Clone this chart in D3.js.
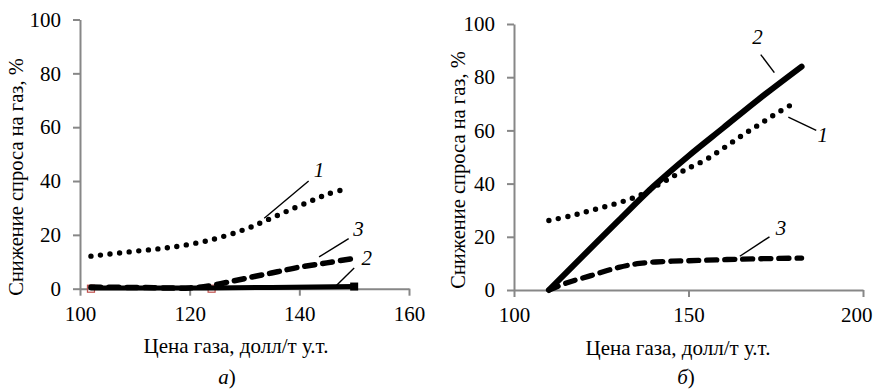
<!DOCTYPE html>
<html>
<head>
<meta charset="utf-8">
<script src="https://cdn.jsdelivr.net/npm/d3@7/dist/d3.min.js"></script>
<style>
  html, body { margin: 0; padding: 0; background: #fff; }
  svg text { font-family: "Times New Roman", "Liberation Serif", "DejaVu Serif", "Noto Serif", serif; }
</style>
</head>
<body>
<svg id="chart" width="874" height="389"></svg>
<script>
// Panel а) — gas price vs. demand reduction
const aTicksX = [100, 120, 140, 160];
const aTicksY = [0, 20, 40, 60, 80, 100];
const a1Price = [102, 110, 117, 124, 130, 134, 138, 142, 145, 148];
const a1Drop  = [12.1, 13.9, 15.5, 18.2, 22.0, 25.4, 29.0, 32.5, 35.0, 36.8];
const a2Price = [102, 124, 150];
const a2Drop  = [0.3, 0.3, 0.8];
const a3Price = [102, 112, 120, 124, 128, 132, 136, 140, 145, 150];
const a3Drop  = [0.6, 0.4, 0.3, 1.2, 2.9, 4.6, 6.3, 8.0, 9.6, 11.3];
const aRefPrice = [102, 124];
const aRefDrop  = [0, 0];

// Panel б)
const bTicksX = [100, 150, 200];
const bTicksY = [0, 20, 40, 60, 80, 100];
const b1Price = [110, 116, 121, 126, 131, 136, 141, 146, 150, 155, 160, 165, 170, 175, 181];
const b1Drop  = [26.1, 27.8, 29.5, 31.3, 33.2, 35.6, 39.3, 43.0, 45.8, 49.0, 53.3, 57.8, 62.0, 66.2, 70.8];
const b2Price = [110, 120, 130, 140, 150, 160, 170, 182.4];
const b2Drop  = [0, 13.1, 26.2, 39.0, 50.4, 61.0, 71.6, 84.0];
const b3Price = [110, 115, 122, 130, 136, 143, 150, 165, 182.4];
const b3Drop  = [0, 2.6, 5.4, 8.5, 10.0, 10.7, 11.0, 11.6, 12.0];

const yTitle = "Снижение спроса на газ, %";
const xTitle = "Цена газа, долл/т у.т.";

const svg = d3.select("#chart");
const AXIS = "#878787";

function zip(xs, ys) { return xs.map((x, i) => [x, ys[i]]); }

function panel(cfg) {
  const x = d3.scaleLinear().domain(cfg.xDomain).range(cfg.xRange);
  const y = d3.scaleLinear().domain([0, 100]).range(cfg.yRange);
  const g = svg.append("g");

  const ax = g.append("g")
    .attr("transform", `translate(0,${cfg.yRange[0]})`)
    .call(d3.axisBottom(x).tickValues(cfg.ticksX).tickSize(7).tickPadding(10).tickSizeOuter(0));
  const ay = g.append("g")
    .attr("transform", `translate(${cfg.xRange[0]},0)`)
    .call(d3.axisLeft(y).tickValues(cfg.ticksY).tickSize(7).tickPadding(12).tickSizeOuter(0));
  [ax, ay].forEach(a => {
    a.attr("font-family", null);
    a.select(".domain").attr("stroke", AXIS).attr("stroke-width", 2);
    a.selectAll(".tick line").attr("stroke", AXIS).attr("stroke-width", 2);
    a.selectAll(".tick text").attr("fill", "#000").attr("font-size", 21);
  });
  // the last x label is kept inside the frame
  if (cfg.lastTickShift) {
    ax.selectAll(".tick:last-of-type text")
      .attr("text-anchor", "end").attr("x", cfg.lastTickShift);
  }

  const line = d3.line().x(d => x(d[0])).y(d => y(d[1])).curve(d3.curveCatmullRom.alpha(0.5));
  const plot = g.append("g");
  cfg.series.forEach(s => {
    const p = plot.append("path")
      .attr("d", line(zip(s.px, s.py)))
      .attr("fill", "none").attr("stroke", "#000")
      .attr("stroke-width", s.w);
    if (s.style === "dot") p.attr("stroke-dasharray", "0,9.6").attr("stroke-linecap", "round");
    if (s.style === "dash") p.attr("stroke-dasharray", "10,8").attr("stroke-linecap", "round");
    if (s.style === "solid") p.attr("stroke-linecap", "round");
  });

  // Leader lines and series numbers
  cfg.notes.forEach(n => {
    g.append("line")
      .attr("x1", x(n.from[0])).attr("y1", y(n.from[1]))
      .attr("x2", x(n.to[0])).attr("y2", y(n.to[1]))
      .attr("stroke", "#000").attr("stroke-width", 1.4);
    g.append("text")
      .attr("x", x(n.at[0])).attr("y", y(n.at[1]))
      .attr("text-anchor", "middle")
      .attr("font-size", 21).attr("font-style", "italic")
      .text(n.label);
  });

  g.append("text")
    .attr("transform", `translate(${cfg.yTitlePos[0]},${cfg.yTitlePos[1]}) rotate(-90)`)
    .attr("text-anchor", "middle").attr("font-size", 20.5)
    .text(yTitle);
  g.append("text")
    .attr("x", cfg.xTitlePos[0]).attr("y", cfg.xTitlePos[1])
    .attr("text-anchor", "middle").attr("font-size", 21)
    .text(xTitle);
  const cap = g.append("text")
    .attr("x", cfg.capPos[0]).attr("y", cfg.capPos[1])
    .attr("text-anchor", "middle").attr("font-size", 21);
  cap.append("tspan").attr("font-style", "italic").text(cfg.caption);
  cap.append("tspan").text(")");

  return { g, x, y, plot };
}

const A = panel({
  xDomain: [100, 160], xRange: [80, 409], yRange: [288.7, 19.5],
  ticksX: aTicksX, ticksY: aTicksY,
  series: [
    { px: a1Price, py: a1Drop, style: "dot", w: 5.4 },
    { px: a3Price, py: a3Drop, style: "dash", w: 5.5 },
    { px: a2Price, py: a2Drop, style: "solid", w: 5 }
  ],
  notes: [
    { label: "1", from: [133.6, 26.2], to: [141.7, 40.0], at: [143.6, 41.5] },
    { label: "3", from: [143.6, 11.8], to: [149.0, 18.6], at: [150.8, 19.6] },
    { label: "2", from: [146.8, 1.3], to: [150.0, 7.7], at: [152.3, 8.8] }
  ],
  yTitlePos: [23, 177], xTitlePos: [236, 353], capPos: [227, 384], caption: "а"
});

// End marker of series 2 and reference markers on the zero line
A.plot.append("rect")
  .attr("x", A.x(a2Price[a2Price.length - 1]) - 4).attr("y", A.y(a2Drop[a2Drop.length - 1]) - 4)
  .attr("width", 8).attr("height", 8).attr("fill", "#000");
A.plot.selectAll("rect.ref").data(zip(aRefPrice, aRefDrop)).enter().append("rect")
  .attr("class", "ref")
  .attr("x", d => A.x(d[0]) - 3.5).attr("y", d => A.y(d[1]) - 3.5)
  .attr("width", 7).attr("height", 7)
  .attr("fill", "none").attr("stroke", "#c0504d").attr("stroke-width", 1.2);
// keep the series line above the reference markers
A.plot.selectAll("path").raise();

const B = panel({
  xDomain: [100, 200], xRange: [514, 863], yRange: [290, 24],
  ticksX: bTicksX, ticksY: bTicksY, lastTickShift: 9,
  series: [
    { px: b1Price, py: b1Drop, style: "dot", w: 5.4 },
    { px: b3Price, py: b3Drop, style: "dash", w: 5.3 },
    { px: b2Price, py: b2Drop, style: "solid", w: 6 }
  ],
  notes: [
    { label: "2", from: [174.6, 81.7], to: [170.7, 88.5], at: [169.8, 92.5] },
    { label: "1", from: [178.6, 65.0], to: [186.6, 60.0], at: [188.5, 55.5] },
    { label: "3", from: [164.7, 12.7], to: [173.2, 20.0], at: [176.5, 20.8] }
  ],
  yTitlePos: [465, 170], xTitlePos: [678, 355], capPos: [686, 384], caption: "б"
});
</script>
</body>
</html>
